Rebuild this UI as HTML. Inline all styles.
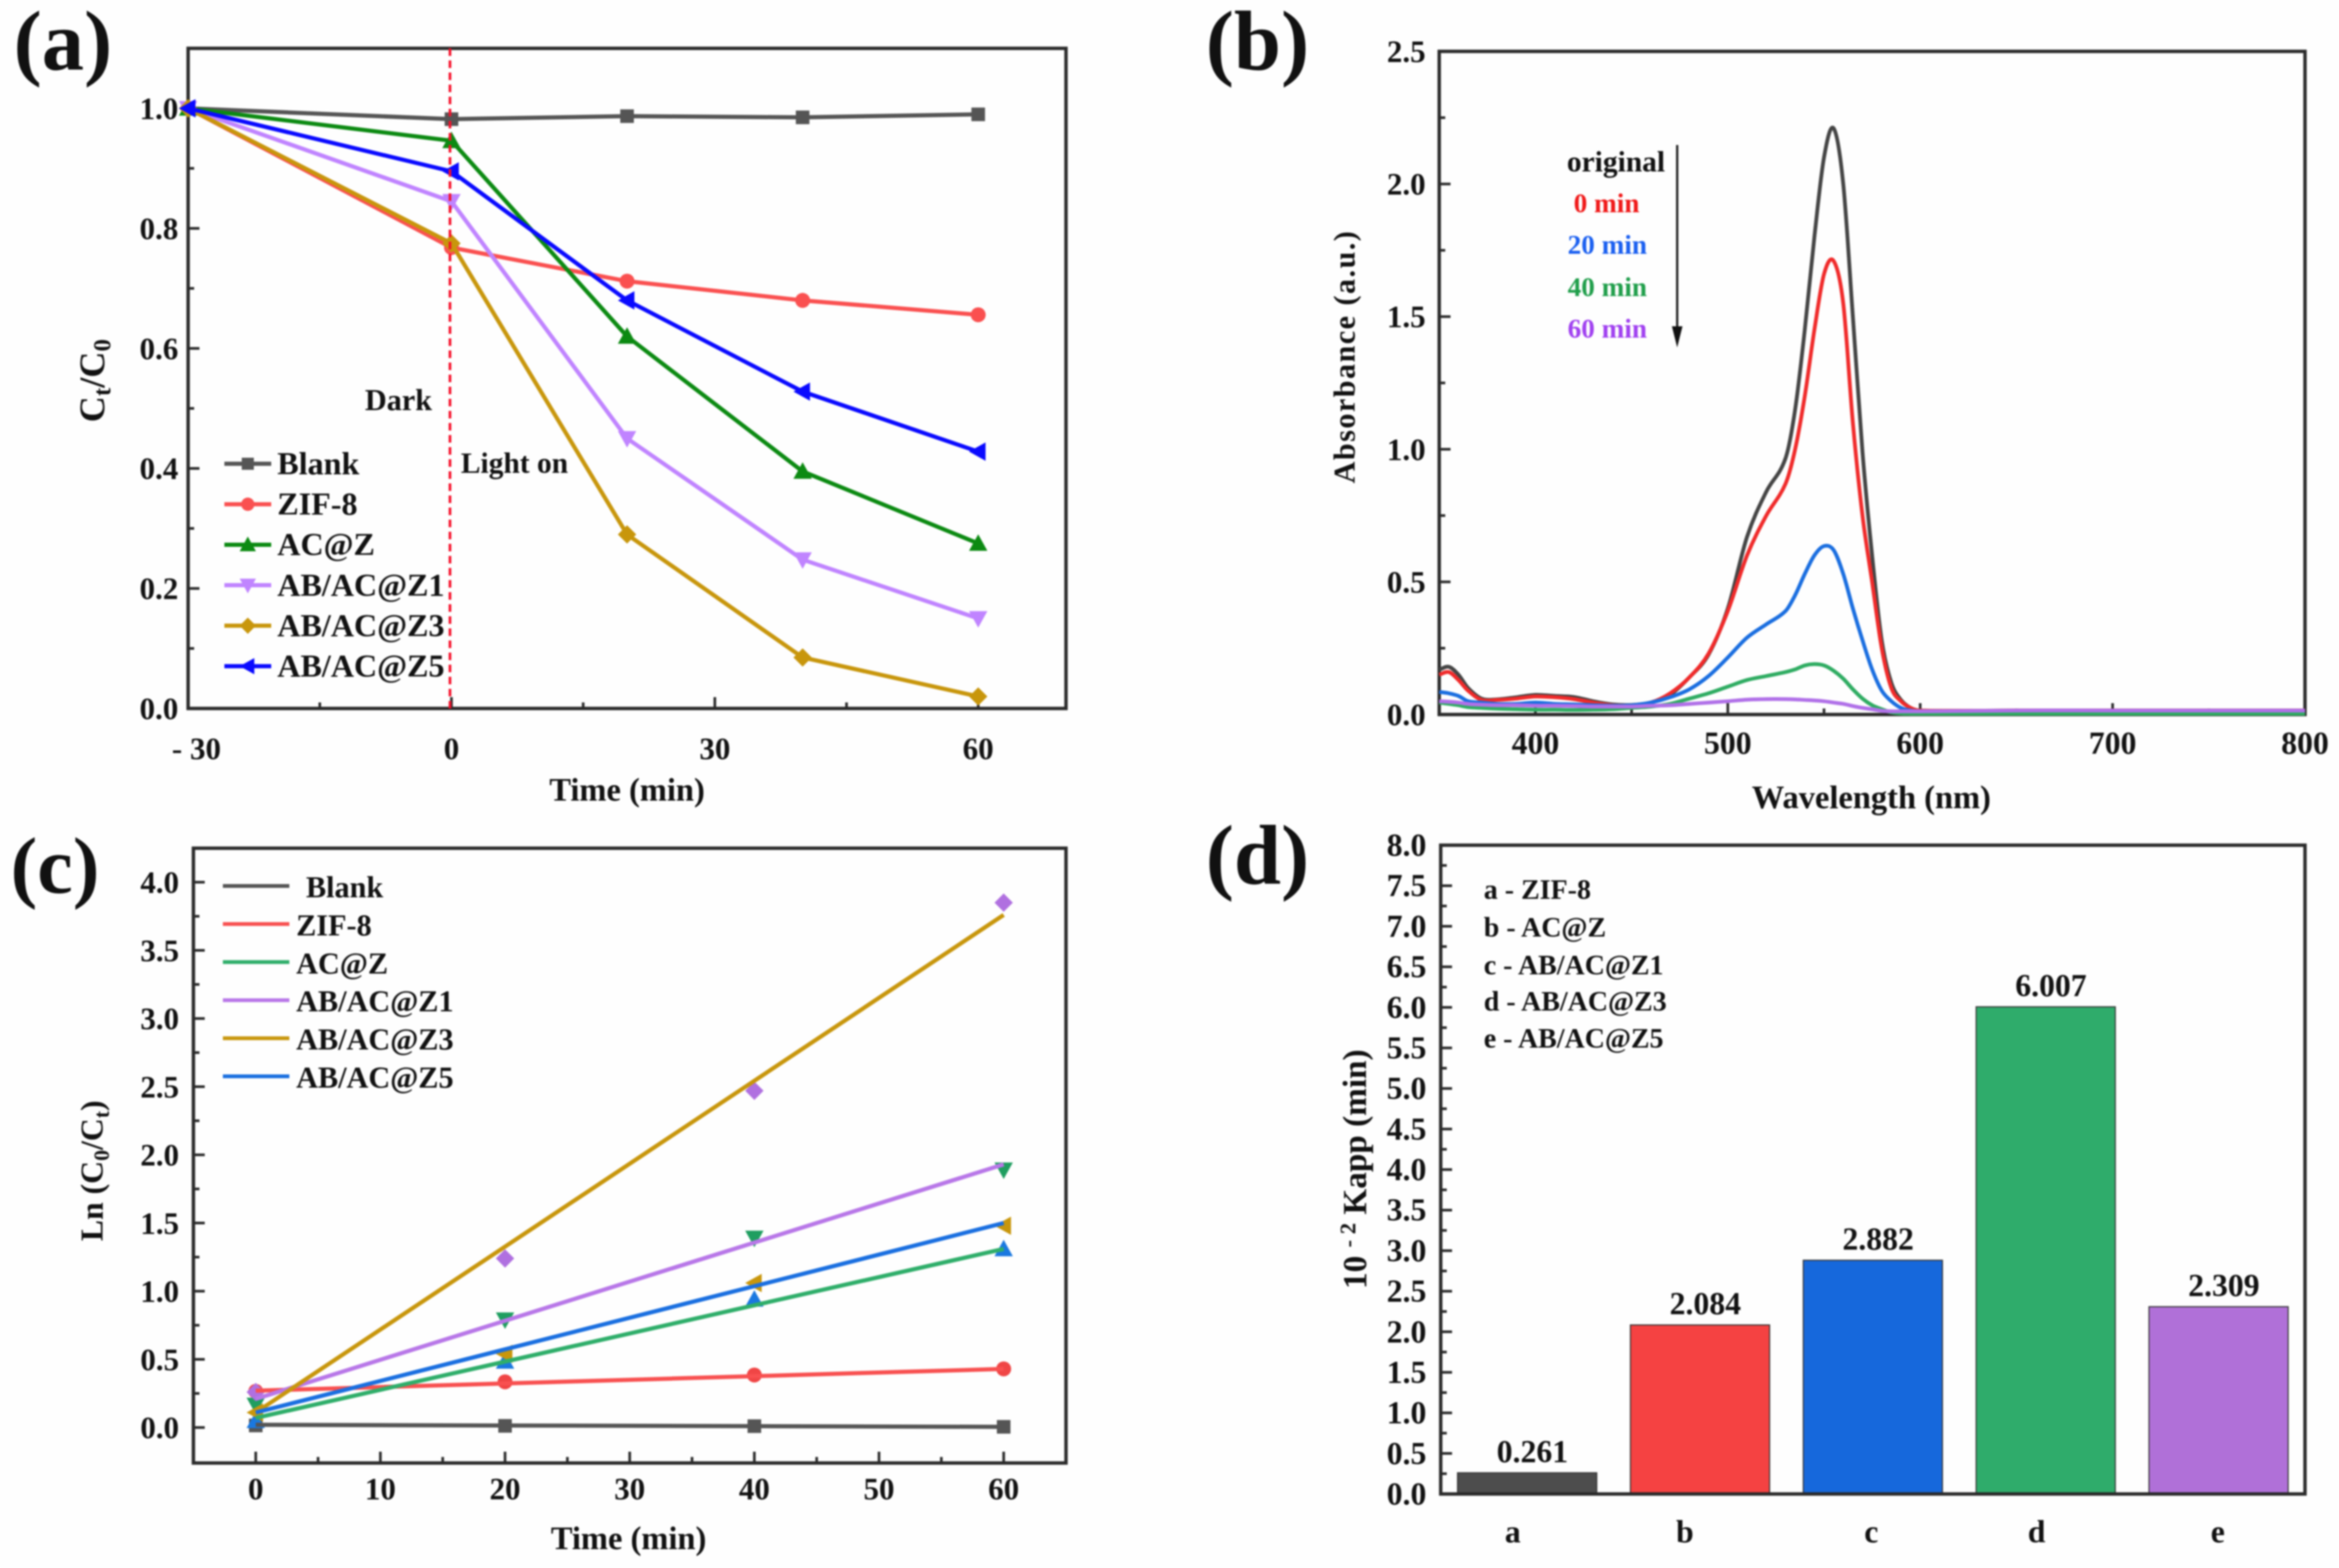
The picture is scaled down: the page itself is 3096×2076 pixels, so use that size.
<!DOCTYPE html>
<html lang="en">
<head>
<meta charset="utf-8">
<title>Photocatalytic degradation charts</title>
<style>
html,body{margin:0;padding:0;background:#fff;}
svg{display:block;filter:blur(1.1px);}
text{font-family:"Liberation Serif",serif;font-weight:bold;fill:#111;}
</style>
</head>
<body>
<svg id="figure" xmlns="http://www.w3.org/2000/svg" width="3096" height="2076" viewBox="0 0 3096 2076">
  <rect x="0" y="0" width="3096" height="2076" fill="#fefefe"/>

  <text x="18" y="92" font-size="112">(a)</text>
  <text x="1596" y="92" font-size="112">(b)</text>
  <text x="14" y="1182" font-size="106">(c)</text>
  <text x="1596" y="1170" font-size="112">(d)</text>

  <text x="830" y="1060" font-size="43" text-anchor="middle">Time (min)</text>
  <text transform="translate(138 504) rotate(-90)" font-size="48" text-anchor="middle">C<tspan font-size="33" dy="8">t</tspan><tspan dy="-8">/C</tspan><tspan font-size="33" dy="8">0</tspan></text>
  <text x="483" y="543" font-size="40">Dark</text>
  <text x="610" y="626" font-size="39">Light on</text>

  <text x="2477" y="1070" font-size="43" text-anchor="middle">Wavelength (nm)</text>
  <text transform="translate(1793 473) rotate(-90)" font-size="40" text-anchor="middle" textLength="334" lengthAdjust="spacing">Absorbance (a.u.)</text>
  <text x="2074" y="227" font-size="39" style="fill:#111">original</text>
  <text x="2083" y="281" font-size="36" style="fill:#f01818">0 min</text>
  <text x="2075" y="336" font-size="36" style="fill:#1a5ff0">20 min</text>
  <text x="2075" y="392" font-size="36" style="fill:#1f9e4a">40 min</text>
  <text x="2075" y="447" font-size="36" style="fill:#a040f0">60 min</text>
  <line x1="2220" y1="192" x2="2220" y2="445" stroke="#222" stroke-width="3"/>
  <polygon points="2213,432 2227,432 2220,460" fill="#111"/>

  <text x="832" y="2051" font-size="43" text-anchor="middle">Time (min)</text>
  <text transform="translate(136 1550) rotate(-90)" font-size="42" text-anchor="middle">Ln (C<tspan font-size="29" dy="8">0</tspan><tspan dy="-8">/C</tspan><tspan font-size="29" dy="8">t</tspan><tspan dy="-8">)</tspan></text>

  <text transform="translate(1808 1548) rotate(-90)" font-size="44" text-anchor="middle">10 <tspan font-size="30" dy="-14">- 2</tspan><tspan dy="14"> Kapp (min)</tspan></text>
  <text x="1964" y="1190" font-size="37">a - ZIF-8</text>
  <text x="1964" y="1240" font-size="37">b - AC@Z</text>
  <text x="1964" y="1290" font-size="37">c - AB/AC@Z1</text>
  <text x="1964" y="1338" font-size="37">d - AB/AC@Z3</text>
  <text x="1964" y="1387" font-size="37">e - AB/AC@Z5</text>

  <g id="marks"></g>
</svg>

<script>
// ---------- Panel (a) data ----------
const timesA = [-30, 0, 20, 40, 60];
const blankA = [1.0, 0.982, 0.987, 0.985, 0.99];
const zif8A = [1.0, 0.768, 0.712, 0.68, 0.656];
const acA = [1.0, 0.946, 0.62, 0.395, 0.275];
const z1A = [1.0, 0.845, 0.45, 0.248, 0.15];
const z3A = [1.0, 0.775, 0.29, 0.085, 0.02];
const z5A = [1.0, 0.895, 0.68, 0.528, 0.428];
const seriesNames = ['Blank', 'ZIF-8', 'AC@Z', 'AB/AC@Z1', 'AB/AC@Z3', 'AB/AC@Z5'];
const xTickLabelsA = ['- 30', '0', '30', '60'];
const xTickValuesA = [-30, 0, 30, 60];
const yTickValuesA = [0, 0.2, 0.4, 0.6, 0.8, 1.0];

// ---------- Panel (b) data ----------
const wavelengths = [350,355,360,365,372,380,390,400,410,420,430,440,450,460,470,480,490,500,510,520,530,535,540,545,550,555,560,565,570,575,580,585,590,595,600,650,700,750,800];
const specOriginal = [.169,.18,.15,.10,.06,.057,.065,.074,.07,.066,.05,.038,.036,.045,.074,.14,.226,.40,.67,.84,.966,1.15,1.45,1.8,2.1,2.21,2.0,1.5,.99,.6,.28,.12,.055,.025,.015,.015,.015,.015,.015];
const spec0 = [.15,.16,.13,.09,.055,.055,.06,.068,.065,.058,.045,.035,.035,.045,.08,.14,.23,.39,.60,.75,.87,1.0,1.2,1.45,1.66,1.71,1.55,1.1,.75,.5,.25,.1,.05,.025,.015,.015,.015,.015,.015];
const spec20 = [.085,.08,.07,.05,.045,.04,.04,.045,.04,.038,.035,.033,.035,.045,.065,.095,.145,.215,.29,.34,.39,.45,.53,.60,.635,.62,.53,.40,.28,.17,.09,.05,.025,.015,.012,.012,.012,.012,.012];
const spec40 = [.045,.04,.035,.028,.025,.022,.02,.018,.018,.017,.018,.02,.025,.03,.04,.06,.08,.105,.13,.145,.16,.17,.185,.19,.185,.165,.135,.095,.06,.035,.02,.008,.004,.003,.003,.003,.003,.003,.003];
const spec60 = [.05,.048,.045,.04,.037,.035,.035,.033,.033,.032,.03,.03,.03,.033,.035,.04,.045,.05,.056,.058,.058,.057,.055,.053,.05,.045,.04,.032,.025,.02,.014,.012,.012,.012,.012,.015,.015,.015,.015];
const specNames = ['original', '0-min', '20-min', '40-min', '60-min'];
const xTickValuesB = [400, 500, 600, 700, 800];
const yTickValuesB = [0, 0.5, 1.0, 1.5, 2.0, 2.5];

// ---------- Panel (c) data ----------
const timesC = [0, 20, 40, 60];
const ptsBlank = [0.015, 0.012, 0.01, 0.005];
const ptsZif = [0.265, 0.335, 0.385, 0.43];
const ptsAc = [0.05, 0.485, 0.94, 1.31];
const ptsZ1 = [0.165, 0.79, 1.39, 1.89];
const ptsZ3 = [0.26, 1.24, 2.47, 3.85];
const ptsZ5 = [0.11, 0.54, 1.06, 1.48];
const fitStart = [0.02, 0.27, 0.07, 0.21, 0.11, 0.11];
const fitEnd = [0.005, 0.43, 1.31, 1.93, 3.76, 1.5];
const xTickValuesC = [0, 10, 20, 30, 40, 50, 60];
const yTickValuesC = [0, 0.5, 1.0, 1.5, 2.0, 2.5, 3.0, 3.5, 4.0];

// ---------- Panel (d) data ----------
const categoriesD = ['a', 'b', 'c', 'd', 'e'];
const kappValues = [0.261, 2.084, 2.882, 6.007, 2.309];
const kappLabels = ['0.261', '2.084', '2.882', '6.007', '2.309'];
const yTickLabelsD = ['0.0','0.5','1.0','1.5','2.0','2.5','3.0','3.5','4.0','4.5','5.0','5.5','6.0','6.5','7.0','7.5','8.0'];

// ---------- Styles ----------
const colorsA = ['#555555', '#fa5050', '#0c8a12', '#c084ff', '#c8960c', '#0a0aff'];
const shapesA = ['square', 'circle', 'up', 'down', 'diamond', 'left'];
const colorsB = ['#444444', '#f02a2a', '#1a6ee0', '#2fac62', '#b070e8'];
const lineColorsC = ['#555555', '#f85050', '#2fae6a', '#b877e8', '#c8960c', '#1a6fe0'];
const markerColorsC = ['#555555', '#f04545', '#1a78e0', '#1f9e60', '#b070e0', '#c8960c'];
const shapesC = ['square', 'circle', 'up', 'down', 'diamond', 'left'];
const barColors = ['#4d4d4d', '#f54242', '#1668dc', '#2fac6b', '#b070d8'];
const catLabelNudge = [-19, -20, -2, -12, -1];

const NS = 'http://www.w3.org/2000/svg';
const root = document.getElementById('marks');

function mk(tag, attrs) {
  const el = document.createElementNS(NS, tag);
  for (const k in attrs) el.setAttribute(k, attrs[k]);
  root.appendChild(el);
  return el;
}
function scale(d0, d1, r0, r1) {
  return v => r0 + (v - d0) * (r1 - r0) / (d1 - d0);
}
function drawMarker(shape, cx, cy, s, color) {
  let el;
  if (shape === 'square') {
    el = mk('rect', {x: cx - s, y: cy - s, width: 2 * s, height: 2 * s, fill: color});
  } else if (shape === 'circle') {
    el = mk('circle', {cx: cx, cy: cy, r: s * 1.1, fill: color});
  } else {
    const r = s * 1.35;
    let p;
    if (shape === 'up') p = [[cx, cy - r], [cx + r, cy + r * 0.8], [cx - r, cy + r * 0.8]];
    if (shape === 'down') p = [[cx, cy + r], [cx + r, cy - r * 0.8], [cx - r, cy - r * 0.8]];
    if (shape === 'left') p = [[cx - r, cy], [cx + r * 0.8, cy - r], [cx + r * 0.8, cy + r]];
    if (shape === 'diamond') p = [[cx, cy - r], [cx + r, cy], [cx, cy + r], [cx - r, cy]];
    el = mk('polygon', {points: p.map(q => q.join(',')).join(' '), fill: color});
  }
  
  
  return el;
}
function drawFrame(name, L, T, R, B) {
  const el = mk('rect', {x: L, y: T, width: R - L, height: B - T, fill: 'none', stroke: '#2a2a2a', 'stroke-width': 4.5});
  
  
}
function drawTickX(x, B, len) {
  const el = mk('line', {x1: x, y1: B, x2: x, y2: B - len, stroke: '#2a2a2a', 'stroke-width': 3.5});
  
  
}
function drawTickY(y, L, len) {
  const el = mk('line', {x1: L, y1: y, x2: L + len, y2: y, stroke: '#2a2a2a', 'stroke-width': 3.5});
  
  
}
function drawLabel(name, x, y, str, size, anchor) {
  const el = mk('text', {x: x, y: y, 'font-size': size, 'text-anchor': anchor});
  el.textContent = str;
  
  
  return el;
}
function polyline(name, xs, ys, color, width) {
  const el = mk('polyline', {points: xs.map((x, i) => x + ',' + ys[i]).join(' '), fill: 'none', stroke: color, 'stroke-width': width, 'stroke-linejoin': 'round'});
  
  
}
function smoothPath(xs, ys) {
  let d = 'M' + xs[0] + ' ' + ys[0];
  for (let i = 0; i < xs.length - 1; i++) {
    const i0 = Math.max(i - 1, 0), i3 = Math.min(i + 2, xs.length - 1);
    const h = xs[i + 1] - xs[i];
    const m1 = (ys[i + 1] - ys[i0]) / (xs[i + 1] - xs[i0]);
    const m2 = (ys[i3] - ys[i]) / (xs[i3] - xs[i]);
    d += ' C' + (xs[i] + h / 3) + ' ' + (ys[i] + m1 * h / 3) + ' ' + (xs[i + 1] - h / 3) + ' ' + (ys[i + 1] - m2 * h / 3) + ' ' + xs[i + 1] + ' ' + ys[i + 1];
  }
  return d;
}

// ---------- Panel (a) ----------
(function () {
  const L = 249, R = 1411, T = 64, B = 938;
  const x = scale(-30, 70, L, R), y = scale(0, 1.1, B, T);
  drawFrame('plot-frame-a', L, T, R, B);
  for (let v = -15; v <= 60; v += 30) drawTickX(x(v), B, 8);
  xTickValuesA.forEach((v, i) => {
    drawTickX(x(v), B, 15);
    drawLabel('x-tick-label-a', i === 0 ? x(v) + 11 : x(v), 1005, xTickLabelsA[i], 41, 'middle');
  });
  for (let v = 0.1; v < 1.1; v += 0.2) drawTickY(y(v), L, 8);
  yTickValuesA.forEach(v => {
    drawTickY(y(v), L, 15);
    drawLabel('y-tick-label-a', 236, y(v) + 14, v.toFixed(1), 41, 'end');
  });
  const all = [blankA, zif8A, acA, z1A, z3A, z5A];
  all.forEach((vals, s) => {
    polyline('series-line-' + seriesNames[s], timesA.map(x), vals.map(y), colorsA[s], 5.5);
    vals.forEach((v, i) => drawMarker(shapesA[s], x(timesA[i]), y(v), 9, colorsA[s]));
  });
  const dash = mk('line', {x1: x(0) - 2, y1: T, x2: x(0) - 2, y2: B, stroke: '#f5102a', 'stroke-width': 3.5, 'stroke-dasharray': '10 6'});
  
  
  seriesNames.forEach((n, s) => {
    const ly = 614 + s * 53.6;
    const ln = mk('line', {x1: 297, y1: ly, x2: 359, y2: ly, stroke: colorsA[s], 'stroke-width': 5.5});
    
    
    drawMarker(shapesA[s], 328, ly, 8, colorsA[s]);
    drawLabel('legend-label-a', 367, ly + 14, n, 42.5, 'start');
  });
})();

// ---------- Panel (b) ----------
(function () {
  const L = 1905, R = 3051, T = 68, B = 946;
  const x = scale(350, 800, L, R), y = scale(0, 2.5, B, T);
  drawFrame('plot-frame-b', L, T, R, B);
  for (let v = 450; v <= 750; v += 100) drawTickX(x(v), B, 8);
  xTickValuesB.forEach(v => {
    drawTickX(x(v), B, 15);
    drawLabel('x-tick-label-b', x(v), 998, String(v), 42, 'middle');
  });
  for (let v = 0.25; v < 2.5; v += 0.5) drawTickY(y(v), L, 8);
  yTickValuesB.forEach(v => {
    drawTickY(y(v), L, 15);
    drawLabel('y-tick-label-b', 1887, y(v) + 14, v.toFixed(1), 41, 'end');
  });
  [specOriginal, spec0, spec20, spec40, spec60].forEach((vals, s) => {
    const el = mk('path', {d: smoothPath(wavelengths.map(x), vals.map(y)), fill: 'none', stroke: colorsB[s], 'stroke-width': 5});
    
    
  });
})();

// ---------- Panel (c) ----------
(function () {
  const L = 256, R = 1411, T = 1123, B = 1937;
  const x = scale(-5, 65, L, R), y = scale(0, 4, 1890, 1168);
  drawFrame('plot-frame-c', L, T, R, B);
  for (let v = 5; v <= 55; v += 10) drawTickX(x(v), B, 8);
  xTickValuesC.forEach(v => {
    drawTickX(x(v), B, 15);
    drawLabel('x-tick-label-c', x(v), 1985, String(v), 41, 'middle');
  });
  for (let v = 0.25; v < 4.2; v += 0.5) drawTickY(y(v), L, 8);
  yTickValuesC.forEach(v => {
    drawTickY(y(v), L, 15);
    drawLabel('y-tick-label-c', 237, y(v) + 14, v.toFixed(1), 41, 'end');
  });
  const pts = [ptsBlank, ptsZif, ptsAc, ptsZ1, ptsZ3, ptsZ5];
  pts.forEach((vals, s) => {
    vals.forEach((v, i) => drawMarker(shapesC[s], x(timesC[i]), y(v), 9, markerColorsC[s]));
  });
  pts.forEach((vals, s) => {
    const first = timesC[0], last = timesC[timesC.length - 1];
    const el = mk('line', {x1: x(first), y1: y(fitStart[s]), x2: x(last), y2: y(fitEnd[s]), stroke: lineColorsC[s], 'stroke-width': 5.5});
    
    
  });
  seriesNames.forEach((n, s) => {
    const ly = 1173 + s * 50.4;
    const ln = mk('line', {x1: 295, y1: ly, x2: 383, y2: ly, stroke: lineColorsC[s], 'stroke-width': 5});
    
    
    drawLabel('legend-label-c', s === 0 ? 405 : 392, ly + 15, n, 40, 'start');
  });
})();

// ---------- Panel (d) ----------
(function () {
  const L = 1907, R = 3051, T = 1119, B = 1978;
  const y = scale(0, 8, B, T);
  const band = (R - L) / categoriesD.length;
  const cx = i => L + band * (i + 0.5);
  const barW = band * 0.805;
  kappValues.forEach((v, i) => {
    const el = mk('rect', {x: cx(i) - barW / 2, y: y(v), width: barW, height: B - y(v), fill: barColors[i], stroke: '#333', 'stroke-width': 1.5});
    
    
    drawLabel('bar-value-label', cx(i) + 7, y(v) - 14, kappLabels[i], 42, 'middle');
    drawLabel('x-tick-label-d', cx(i) + catLabelNudge[i], 2042, categoriesD[i], 42, 'middle');
  });
  drawFrame('plot-frame-d', L, T, R, B);
  for (let v = 0.25; v < 8; v += 0.5) drawTickY(y(v), L, 8);
  yTickLabelsD.forEach(t => {
    const v = parseFloat(t);
    drawTickY(y(v), L, 15);
    drawLabel('y-tick-label-d', 1888, y(v) + 14, t, 42, 'end');
  });
})();
</script>
</body>
</html>
